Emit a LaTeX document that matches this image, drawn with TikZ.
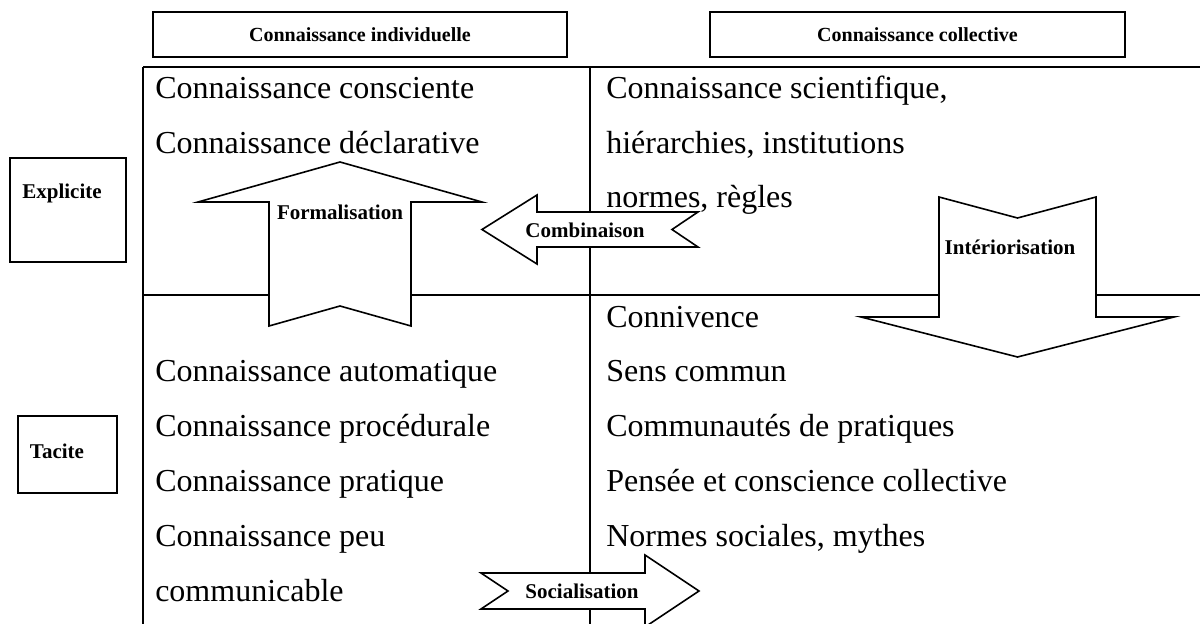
\documentclass[tikz,border=0pt]{standalone}
\usepackage{fontspec}
\setmainfont{Liberation Serif}
\begin{document}
\begin{tikzpicture}[x=0.75pt,y=-0.75pt,
  gridline/.style={line width=1.5pt},
  bigarrow/.style={draw, fill=white, line width=1.2pt, line join=miter},
  lab/.style={font=\fontsize{15.75}{18}\selectfont\bfseries, inner sep=0pt},
  cell/.style={font=\fontsize{24}{28}\selectfont, anchor=base west, inner sep=0pt},
  hdr/.style={draw, line width=1.2pt, minimum height=33.75pt, inner sep=0pt, font=\fontsize{15}{18}\selectfont\bfseries},
  sidebox/.style={draw, line width=1.2pt, inner sep=0pt}
]
\useasboundingbox (0,0) rectangle (1200,624);

% header boxes
\node[hdr, minimum width=310.5pt] (indiv) at (360,34.5) {Connaissance individuelle};
\node[hdr, minimum width=311.25pt] (coll) at (917.5,34.5) {Connaissance collective};

% side boxes
\node[sidebox, minimum width=87pt, minimum height=78pt] (explicite) at (68,210) {};
\node[lab] (explicitetxt) at (62,193) {Explicite};
\node[sidebox, minimum width=74.25pt, minimum height=57.75pt] (tacite) at (67.5,454.5) {};
\node[lab] (tacitetxt) at (57,451) {Tacite};

% grid
\draw[gridline] (143,67) -- (1200,67);
\draw[gridline] (143,67) -- (143,624);
\draw[gridline] (590,67) -- (590,624);
\draw[gridline] (143,295) -- (1200,295);

% arrows
\draw[bigarrow] (269,326) -- (269,202) -- (198,202) -- (340,162) -- (482,202) -- (411,202) -- (411,326) -- (340,306) -- cycle;
\node[lab] (formal) at (340,212) {Formalisation};

\draw[bigarrow] (482,229.5) -- (537,195) -- (537,212) -- (698,212) -- (672,229.5) -- (698,247) -- (537,247) -- (537,264) -- cycle;
\node[lab] (combi) at (585,230) {Combinaison};

\draw[bigarrow] (939,197) -- (1017.5,218) -- (1096,197) -- (1096,317) -- (1174,317) -- (1017.5,357) -- (861,317) -- (939,317) -- cycle;
\node[lab] (interio) at (1010,247) {Intériorisation};

\draw[bigarrow] (481,573) -- (645,573) -- (645,555) -- (699,591) -- (645,627) -- (645,609) -- (481,609) -- (508,591) -- cycle;
\node[lab] (social) at (582,591) {Socialisation};

% cell texts
\node[cell] (a1) at (155,99) {Connaissance consciente};
\node[cell] (a2) at (155,154) {Connaissance déclarative};
\node[cell] (b1) at (606,99) {Connaissance scientifique,};
\node[cell] (b2) at (606,154) {hiérarchies, institutions};
\node[cell] (b3) at (606,208) {normes, règles};
\node[cell] (c1) at (155,381) {Connaissance automatique};
\node[cell] (c2) at (155,436) {Connaissance procédurale};
\node[cell] (c3) at (155,491) {Connaissance pratique};
\node[cell] (c4) at (155,546) {Connaissance peu};
\node[cell] (c5) at (155,601) {communicable};
\node[cell] (d1) at (606,327) {Connivence};
\node[cell] (d2) at (606,381) {Sens commun};
\node[cell] (d3) at (606,436) {Communautés de pratiques};
\node[cell] (d4) at (606,491) {Pensée et conscience collective};
\node[cell] (d5) at (606,546) {Normes sociales, mythes};
\end{tikzpicture}
\end{document}
